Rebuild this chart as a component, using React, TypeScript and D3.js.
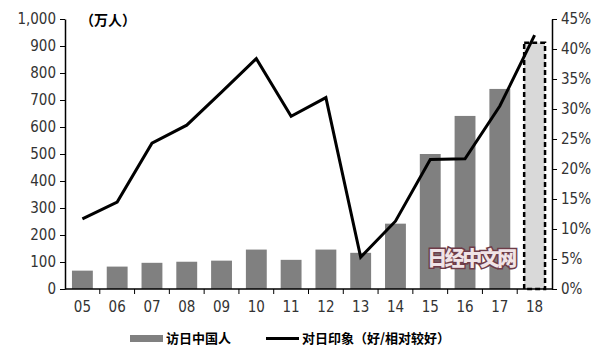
import React, { useEffect, useRef } from "react";
import * as d3 from "d3";

const years = ["05", "06", "07", "08", "09", "10", "11", "12", "13", "14", "15", "16", "17", "18"];
const visitors = [68, 83, 97, 101, 105, 146, 108, 146, 134, 242, 500, 641, 741, 912];
const goodImpression = [11.7, 14.5, 24.3, 27.3, 32.8, 38.4, 28.8, 31.9, 5.3, 11.3, 21.6, 21.7, 30.5, 42.3];
const leftTicks = [0, 100, 200, 300, 400, 500, 600, 700, 800, 900, 1000];
const rightTicks = [0, 5, 10, 15, 20, 25, 30, 35, 40, 45];

const width = 600,
  height = 361,
  left = 65,
  right = 552,
  top = 19,
  bottom = 289;

const tickFont = "'Liberation Sans Narrow', 'DejaVu Sans Condensed', sans-serif";
const cjkFont = "'Noto Sans CJK SC', sans-serif";

const App = () => {
  const ref = useRef<SVGSVGElement>(null);

  useEffect(() => {
    const svg = d3.select(ref.current);
    svg.selectAll("*").remove();

    const x = d3.scaleBand().domain(years).range([left, right]).paddingInner(0.4).paddingOuter(0.2);
    const band = d3.scaleBand().domain(years).range([left, right]);
    const yL = d3.scaleLinear().domain([0, 1000]).range([bottom, top]);
    const yR = d3.scaleLinear().domain([0, 45]).range([bottom, top]);

    // bars, the last one is an estimate (dashed)
    svg
      .append("g")
      .selectAll("rect")
      .data(visitors)
      .enter()
      .append("rect")
      .attr("x", (d, i) => x(years[i])!)
      .attr("y", d => yL(d))
      .attr("width", x.bandwidth())
      .attr("height", d => bottom - yL(d))
      .attr("fill", (d, i) => (i === years.length - 1 ? "#d9d9d9" : "#808080"))
      .attr("stroke", (d, i) => (i === years.length - 1 ? "#000" : "none"))
      .attr("stroke-width", 2.5)
      .attr("stroke-dasharray", "5,3");

    // watermark
    svg
      .append("text")
      .attr("x", 471)
      .attr("y", 266)
      .attr("text-anchor", "middle")
      .attr("font-family", cjkFont)
      .attr("font-weight", 900)
      .attr("font-size", 20)
      .attr("letter-spacing", -2.5)
      .attr("fill", "#f0e4e7")
      .attr("stroke", "#6e3c48")
      .attr("stroke-width", 3)
      .attr("paint-order", "stroke")
      .text("日经中文网");

    // line
    const line = d3
      .line<number>()
      .x((d, i) => band(years[i])! + band.bandwidth() / 2)
      .y(d => yR(d));
    svg
      .append("path")
      .datum(goodImpression)
      .attr("d", line)
      .attr("fill", "none")
      .attr("stroke", "#000")
      .attr("stroke-width", 3);

    // axes
    const leftAxis = d3
      .axisLeft(yL)
      .tickValues(leftTicks)
      .tickSize(5)
      .tickSizeOuter(0)
      .tickFormat(d3.format(","));
    const rightAxis = d3
      .axisRight(yR)
      .tickValues(rightTicks)
      .tickSize(5)
      .tickSizeOuter(0)
      .tickFormat(d => d + "%");
    const gL = svg.append("g").attr("transform", `translate(${left},0)`).call(leftAxis);
    const gR = svg.append("g").attr("transform", `translate(${right},0)`).call(rightAxis);

    const gB = svg.append("g").attr("transform", `translate(0,${bottom})`);
    gB.append("line").attr("x1", left).attr("x2", right).attr("stroke", "#000").attr("stroke-width", 1.5);
    gB
      .selectAll("line.tick")
      .data(years.slice(1))
      .enter()
      .append("line")
      .attr("class", "tick")
      .attr("x1", d => band(d)!)
      .attr("x2", d => band(d)!)
      .attr("y1", 0)
      .attr("y2", 5)
      .attr("stroke", "#000");
    gB
      .selectAll("text")
      .data(years)
      .enter()
      .append("text")
      .attr("x", d => band(d)! + band.bandwidth() / 2)
      .attr("y", 23)
      .attr("text-anchor", "middle")
      .attr("font-family", tickFont)
      .attr("font-size", 15)
      .attr("fill", "#333")
      .text(d => d);

    [gL, gR].forEach(g => {
      g.select(".domain").attr("stroke", "#000").attr("stroke-width", 1.5);
      g.selectAll(".tick line").attr("stroke", "#000");
      g.selectAll(".tick text")
        .attr("font-family", tickFont)
        .attr("font-size", 15)
        .attr("fill", "#333");
    });
    gL.selectAll(".tick text").attr("x", -9);
    gR.selectAll(".tick text").attr("x", 9);

    // unit label
    svg
      .append("text")
      .attr("x", 80)
      .attr("y", 25)
      .attr("font-family", cjkFont)
      .attr("font-weight", "bold")
      .attr("font-size", 14)
      .attr("fill", "#000")
      .text("（万人）");

    // legend
    const lg = svg.append("g").attr("font-family", cjkFont).attr("font-weight", "bold").attr("font-size", 13);
    lg.append("rect").attr("x", 130).attr("y", 335).attr("width", 33).attr("height", 7).attr("fill", "#808080");
    lg.append("text").attr("x", 166).attr("y", 343).text("访日中国人");
    lg.append("line")
      .attr("x1", 266)
      .attr("x2", 299)
      .attr("y1", 338.5)
      .attr("y2", 338.5)
      .attr("stroke", "#000")
      .attr("stroke-width", 3);
    lg.append("text").attr("x", 302).attr("y", 343).text("对日印象（好/相对较好）");
  }, []);

  return (
    <svg
      ref={ref}
      width={width}
      height={height}
      style={{ position: "absolute", left: 0, top: 0, background: "#fff" }}
    />
  );
};

export default App;
